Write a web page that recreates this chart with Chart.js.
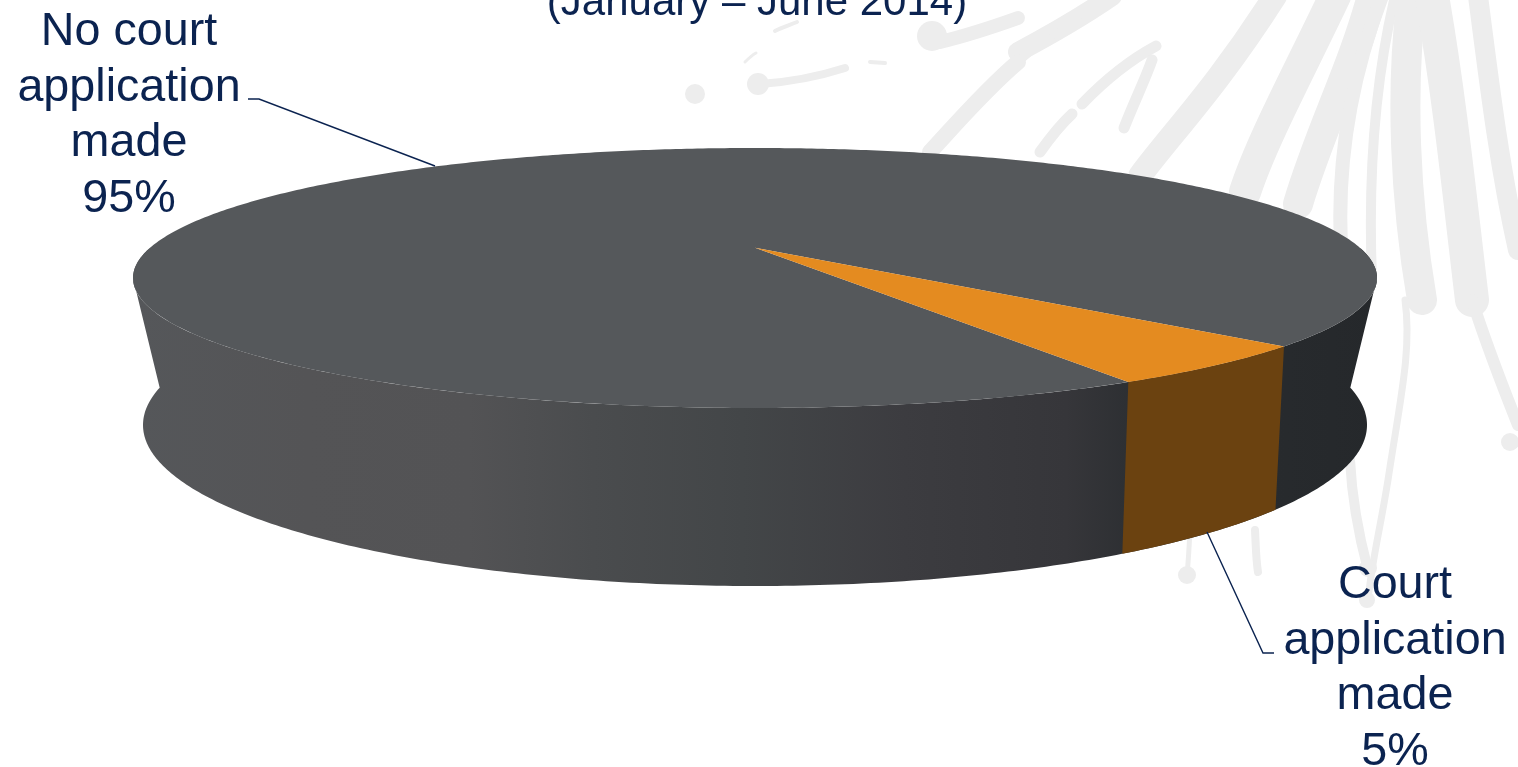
<!DOCTYPE html>
<html>
<head>
<meta charset="utf-8">
<title>Court applications</title>
<script src="https://cdn.jsdelivr.net/npm/chart.js@4/dist/chart.umd.min.js"></script>
<style>
    body { margin: 0; background: #ffffff; overflow: hidden; }
    canvas { display: block; }
</style>
</head>
<body>
<canvas id="courtChart" width="1518" height="767"></canvas>
<script>
const titleText = '(January \u2013 June 2014)';
const categories = ['No court application made', 'Court application made'];
const shares = [95, 5];
const sliceColors = ['#55585b', '#e48b20'];
const labelLines = [['No court', 'application', 'made'], ['Court', 'application', 'made']];

const TEXT_COLOR = '#0b2350';
const SIDE_ORANGE = '#6b4210';

// top and bottom rims of the disc, as ellipses; tilt moves the hub towards the back
const topRim = { cx: 755, cy: 278, rx: 622, ry: 130 };
const bottomRim = { cx: 755, cy: 425, rx: 612, ry: 161 };
const tilt = -0.232;

// faint splash behind the chart: [svg path, stroke width]
const splash = [
    ['M1018 52 C1050 35 1080 18 1112 -4', 20],
    ['M1020 62 C1030 52 1060 30 1078 18', 6],
    ['M1082 104 C1105 80 1130 60 1156 46', 11],
    ['M1124 128 C1135 100 1145 80 1152 60', 11],
    ['M1040 152 C1050 138 1060 125 1072 114', 11],
    ['M1140 176 C1170 135 1215 90 1275 -4', 24],
    ['M1245 192 C1262 140 1300 70 1335 -4', 32],
    ['M1298 204 C1320 130 1352 70 1372 -4', 30],
    ['M1342 262 C1335 170 1350 80 1382 -4', 14],
    ['M1372 280 C1368 180 1375 80 1395 -4', 10],
    ['M1422 300 C1405 200 1400 90 1412 -4', 30],
    ['M1472 300 C1460 200 1450 100 1432 -4', 34],
    ['M1518 250 C1500 170 1490 90 1478 -4', 20],
    ['M1405 300 C1412 350 1400 400 1388 480 C1380 530 1372 560 1368 600', 7],
    ['M1350 460 C1352 500 1360 540 1368 570', 10],
    ['M1472 300 C1485 340 1500 380 1518 425', 12],
    ['M1255 530 C1256 550 1256 560 1258 572', 8],
    ['M1190 530 C1189 550 1188 565 1187 575', 5],
    ['M1018 18 C990 28 965 36 940 42', 14],
    ['M1018 62 C985 90 955 125 930 152', 16],
    ['M760 84 C790 82 820 76 845 68', 8],
    ['M775 31 C782 27 790 25 797 22', 4],
    ['M745 62 C748 59 752 55 756 53', 3],
    ['M870 62 L885 63', 4]
];
const splashBlobs = [[932, 36, 15], [758, 84, 11], [695, 94, 10], [1187, 575, 9], [1367, 600, 8], [1510, 442, 9], [1368, 568, 9]];

// maps a disc angle onto a rim, keeping straight edges straight
function rimPoint(rim, angle) {
    const u = Math.cos(angle), v = Math.sin(angle);
    const d = 1 + tilt * v;
    return {
        x: rim.cx + rim.rx * u * Math.sqrt(1 - tilt * tilt) / d,
        y: rim.cy + rim.ry * (v + tilt) / d
    };
}

function traceRim(ctx, rim, from, to) {
    const steps = Math.max(4, Math.ceil(Math.abs(to - from) * 90));
    for (let i = 0; i <= steps; i++) {
        const p = rimPoint(rim, from + (to - from) * i / steps);
        ctx.lineTo(p.x, p.y);
    }
}

function drawSplash(ctx) {
    ctx.save();
    ctx.strokeStyle = '#ededed';
    ctx.fillStyle = '#ededed';
    ctx.lineCap = 'round';
    splash.forEach(function(s) {
        ctx.lineWidth = s[1];
        ctx.stroke(new Path2D(s[0]));
    });
    splashBlobs.forEach(function(b) {
        ctx.beginPath();
        ctx.arc(b[0], b[1], b[2], 0, Math.PI * 2);
        ctx.fill();
    });
    ctx.restore();
}

function drawSide(ctx, arcs) {
    // curved wall of the whole disc, left to right
    const wall = ctx.createLinearGradient(topRim.cx - topRim.rx, 0, topRim.cx + topRim.rx, 0);
    wall.addColorStop(0, '#55575a');
    wall.addColorStop(0.14, '#545456');
    wall.addColorStop(0.27, '#535355');
    wall.addColorStop(0.37, '#4a4c4e');
    wall.addColorStop(0.49, '#434648');
    wall.addColorStop(0.62, '#3c3c40');
    wall.addColorStop(0.75, '#36363a');
    wall.addColorStop(0.82, '#2a2d30');
    wall.addColorStop(1, '#25282b');
    ctx.fillStyle = wall;
    ctx.beginPath();
    ctx.moveTo(topRim.cx - topRim.rx, topRim.cy);
    traceRim(ctx, bottomRim, Math.PI, 0);
    ctx.lineTo(topRim.cx + topRim.rx, topRim.cy);
    traceRim(ctx, topRim, 0, Math.PI);
    ctx.closePath();
    ctx.fill();

    // the small slice gets its own darker wall
    const court = arcs[1];
    ctx.fillStyle = SIDE_ORANGE;
    ctx.beginPath();
    const first = rimPoint(topRim, court.startAngle);
    ctx.moveTo(first.x, first.y);
    traceRim(ctx, topRim, court.startAngle, court.endAngle);
    traceRim(ctx, bottomRim, court.endAngle, court.startAngle);
    ctx.closePath();
    ctx.fill();
}

function drawFaces(ctx, arcs) {
    const hub = { x: topRim.cx, y: topRim.cy + topRim.ry * tilt };
    arcs.forEach(function(arc, i) {
        ctx.fillStyle = sliceColors[i];
        ctx.beginPath();
        ctx.moveTo(hub.x, hub.y);
        traceRim(ctx, topRim, arc.startAngle, arc.endAngle);
        ctx.closePath();
        ctx.fill();
    });
}

function drawTextBlock(ctx, lines, x, firstBaseline) {
    lines.forEach(function(line, i) {
        ctx.fillText(line, x, firstBaseline + i * 55.5);
    });
}

function drawLabels(ctx) {
    ctx.save();
    ctx.fillStyle = TEXT_COLOR;
    ctx.textAlign = 'center';
    ctx.textBaseline = 'alphabetic';
    ctx.font = '42px "Liberation Sans"';
    ctx.fillText(titleText, 757, 15);

    ctx.font = '46.7px "Liberation Sans"';
    drawTextBlock(ctx, labelLines[0].concat(shares[0] + '%'), 129, 45);
    drawTextBlock(ctx, labelLines[1].concat(shares[1] + '%'), 1395, 598);

    // leader lines from the labels to the disc
    ctx.strokeStyle = TEXT_COLOR;
    ctx.lineWidth = 1.4;
    ctx.beginPath();
    ctx.moveTo(248, 99);
    ctx.lineTo(259, 99);
    ctx.lineTo(435, 166);
    ctx.moveTo(1207, 532);
    ctx.lineTo(1263, 653);
    ctx.lineTo(1274, 653);
    ctx.stroke();
    ctx.restore();
}

const discPlugin = {
    id: 'disc',
    beforeDraw: function(chart) {
        drawSplash(chart.ctx);
    },
    // a tilted disc replaces the flat arcs, using the angles the pie controller worked out
    beforeDatasetsDraw: function(chart) {
        const arcs = chart.getDatasetMeta(0).data;
        drawSide(chart.ctx, arcs);
        drawFaces(chart.ctx, arcs);
        drawLabels(chart.ctx);
        return false;
    }
};

new Chart(document.getElementById('courtChart').getContext('2d'), {
    type: 'pie',
    data: {
        labels: categories,
        datasets: [{
            data: shares,
            backgroundColor: sliceColors,
            borderWidth: 0
        }]
    },
    options: {
        responsive: false,
        animation: false,
        rotation: 150.5,
        plugins: {
            legend: { display: false },
            tooltip: { enabled: false }
        }
    },
    plugins: [discPlugin]
});
</script>
</body>
</html>
